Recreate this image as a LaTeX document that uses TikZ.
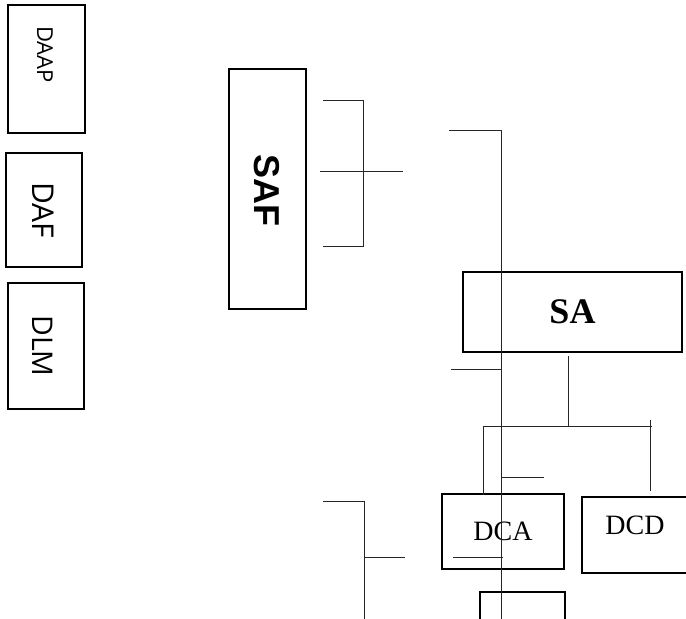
\documentclass[tikz,border=0pt]{standalone}
\usepackage{fontspec}
\setmainfont{Liberation Serif}
\newfontfamily\opensans{Open Sans}
\newfontfamily\libsans{Liberation Sans}
\begin{document}
\begin{tikzpicture}[x=1pt,y=-1pt,
  boxthick/.style={draw=black,line width=2.4pt,inner sep=0pt,fill=none},
  thin/.style={draw=black!85,line width=1pt},
  vlabel/.style={rotate=-90,inner sep=0pt}]
\useasboundingbox (0,0) rectangle (686,619);
\clip (0,0) rectangle (686,619);
% left boxes
\node[boxthick,minimum width=77pt,minimum height=128pt] (daap) at (46.5,69) {};
\node[vlabel,font=\opensans\fontsize{22}{25}\selectfont] (daapt) at (45,54.5) {DAAP};
\node[boxthick,minimum width=76pt,minimum height=114pt] (daf) at (44,210) {};
\node[vlabel,font=\opensans\fontsize{30}{34}\selectfont] (daft) at (43,210.5) {DAF};
\node[boxthick,minimum width=76pt,minimum height=126pt] (dlm) at (46,346) {};
\node[vlabel,font=\opensans\fontsize{28.5}{32}\selectfont] (dlmt) at (43,346) {DLM};
% SAF
\node[boxthick,minimum width=77pt,minimum height=240pt] (saf) at (267.5,189) {};
\node[vlabel,font=\libsans\bfseries\fontsize{36}{40}\selectfont] (saft) at (267,190) {SAF};
% SA
\node[boxthick,minimum width=219pt,minimum height=80pt,font=\bfseries\fontsize{36}{40}\selectfont] (sa) at (572.5,312) {SA};
% DCA, DCD, bottom box
\node[boxthick,minimum width=122pt,minimum height=75pt,font=\fontsize{28}{32}\selectfont] (dca) at (503,531.5) {DCA};
\node[boxthick,minimum width=118pt,minimum height=76pt] (dcd) at (641,535) {};
\node[font=\fontsize{28}{32}\selectfont,inner sep=0pt] (dcdt) at (635,525) {DCD};
\node[boxthick,minimum width=85pt,minimum height=76pt] (bot) at (522.5,630) {};
% coordinates for loose lines
\coordinate (b1a) at (323,100); \coordinate (b1b) at (363,100);
\coordinate (b1c) at (363,246); \coordinate (b1d) at (323,246);
\coordinate (b1m1) at (320,171); \coordinate (b1m2) at (403,171);
\coordinate (v1a) at (449,130); \coordinate (v1b) at (501,130); \coordinate (v1c) at (501,625);
\coordinate (h2a) at (451,369); \coordinate (h2b) at (501,369);
\coordinate (s1) at (568,356); \coordinate (s2) at (568,426);
\coordinate (t1) at (483,495); \coordinate (t2) at (483,426); \coordinate (t3) at (652,426);
\coordinate (r1) at (650,420); \coordinate (r2) at (650,491);
\coordinate (h3a) at (501,477); \coordinate (h3b) at (544,477);
\coordinate (h4a) at (453,557); \coordinate (h4b) at (503,557);
\coordinate (b2a) at (323,501); \coordinate (b2b) at (364,501); \coordinate (b2c) at (364,625);
\coordinate (b2m1) at (364,557); \coordinate (b2m2) at (405,557);
% lines
\draw[thin] (b1a) -- (b1b) -- (b1c) -- (b1d);
\draw[thin] (b1m1) -- (b1m2);
\draw[thin] (v1a) -- (v1b) -- (v1c);
\draw[thin] (h2a) -- (h2b);
\draw[thin] (s1) -- (s2);
\draw[thin] (t1) -- (t2) -- (t3);
\draw[thin] (r1) -- (r2);
\draw[thin] (h3a) -- (h3b);
\draw[thin] (h4a) -- (h4b);
\draw[thin] (b2a) -- (b2b) -- (b2c);
\draw[thin] (b2m1) -- (b2m2);
\end{tikzpicture}
\end{document}
